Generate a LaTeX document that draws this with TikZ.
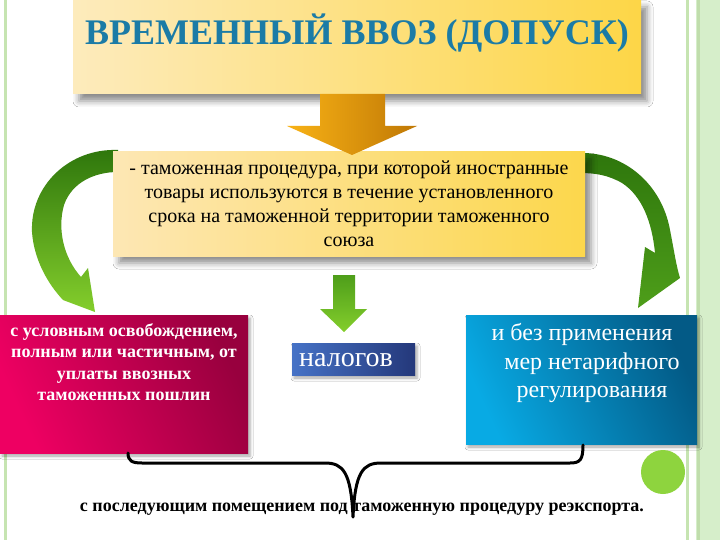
\documentclass[tikz,border=0pt]{standalone}
\usepackage{fontspec}
\setmainfont{Liberation Serif}
\usetikzlibrary{shadows.blur}
\definecolor{ttlL}{HTML}{FDEBBC}
\definecolor{ttlR}{HTML}{FDD647}
\definecolor{ttlC}{HTML}{1B7BA6}
\definecolor{midL}{HTML}{FDE7B4}
\definecolor{midR}{HTML}{FCD74C}
\definecolor{orL}{HTML}{F8B216}
\definecolor{orR}{HTML}{C07805}
\definecolor{grD}{HTML}{2E760C}
\definecolor{grL}{HTML}{84CE2C}
\definecolor{grM}{HTML}{4E9E1A}
\definecolor{pinkL}{HTML}{EE0062}
\definecolor{pinkR}{HTML}{98003E}
\definecolor{cyanL}{HTML}{08AAE4}
\definecolor{cyanR}{HTML}{035A86}
\definecolor{blueL}{HTML}{4672C6}
\definecolor{blueR}{HTML}{24387A}
\definecolor{dotG}{HTML}{8ED43E}
\definecolor{bordA}{HTML}{C6E4B1}
\definecolor{bordB}{HTML}{D6EECA}
\begin{document}
\begin{tikzpicture}[x=1pt,y=-1pt,
  softshadow/.style={blur shadow={shadow xshift=6pt, shadow yshift=-7pt, shadow blur radius=6pt, shadow opacity=45}},
  smallshadow/.style={blur shadow={shadow xshift=2pt, shadow yshift=-3pt, shadow blur radius=3pt, shadow opacity=35}},
  ttlbox/.style={rectangle, inner sep=0pt, left color=ttlL, right color=ttlR, softshadow},
  midbox/.style={rectangle, inner sep=0pt, left color=midL, right color=midR, softshadow},
  pinkbox/.style={rectangle, inner sep=0pt, shading=axis, top color=pinkR, bottom color=pinkL, shading angle=-65, smallshadow},
  cyanbox/.style={rectangle, inner sep=0pt, shading=axis, top color=cyanR, bottom color=cyanL, shading angle=-65, smallshadow},
  bluebox/.style={rectangle, inner sep=0pt, left color=blueL, right color=blueR, smallshadow},
  bracestyle/.style={line width=3pt, black, line cap=round, line join=round}
]
\useasboundingbox (0,0) rectangle (720,540);
\fill[white] (0,0) rectangle (720,540);
% page borders
\fill[bordA] (3.5,0) rectangle (7,540);
\fill[bordA] (686,0) rectangle (689,540);
\fill[bordB] (696,0) rectangle (720,540);
\fill[bordA!85!black!20!bordA] (697,0) rectangle (700,540);

% title
\node[ttlbox, minimum width=568pt, minimum height=94pt] (title) at (357,47) {};
\node[anchor=base, font=\bfseries\fontsize{36}{40}\selectfont, text=ttlC] (ttltext) at (357,45) {ВРЕМЕННЫЙ ВВОЗ (ДОПУСК)};

% curved green arrows (behind the middle box)
\shade[top color=grD, bottom color=grL]
  (118,150) .. controls (70,148) and (30,185) .. (32,232)
  .. controls (34,260) and (48,284) .. (63,300)
  -- (95,312) -- (88,268) -- (81,277)
  .. controls (64,258) and (57,230) .. (64,205)
  .. controls (72,182) and (95,172) .. (118,172) -- cycle;
\shade[top color=grD, bottom color=grM]
  (580,153) .. controls (625,152) and (662,185) .. (670,230)
  .. controls (674,250) and (676,265) .. (680,278)
  -- (638,308) -- (645,247) -- (655,253)
  .. controls (652,222) and (642,196) .. (622,183)
  .. controls (608,175) and (595,173) .. (580,173) -- cycle;

% middle box
\node[midbox, minimum width=472pt, minimum height=104pt, align=center,
      font=\fontsize{20}{24}\selectfont] (mid) at (349,204)
  {- таможенная процедура, при которой иностранные\\товары используются в течение установленного\\срока на таможенной территории таможенного\\союза};

% orange arrow
\shade[left color=orL, right color=orR]
  (320,94) -- (385,94) -- (385,126) -- (417,126) -- (352,155) -- (287,126) -- (320,126) -- cycle;

% small green arrow
\shade[top color=grM, bottom color=grL]
  (333,275) -- (355,275) -- (355,309) -- (367,309) -- (344,332) -- (320,309) -- (333,309) -- cycle;

% pink box
\node[pinkbox, minimum width=248pt, minimum height=138pt] (pink) at (124,384) {};
\node[align=center, text=white, font=\bfseries\fontsize{18}{21.5}\selectfont] (pinktext) at (124,362)
  {с условным освобождением,\\полным или частичным, от\\уплаты ввозных\\таможенных пошлин};

% blue box
\node[bluebox, minimum width=123pt, minimum height=32pt] (nal) at (353.5,359) {};
\node[anchor=base, text=white, font=\fontsize{28}{30}\selectfont] (naltext) at (346,366) {налогов};

% cyan box
\node[cyanbox, minimum width=231pt, minimum height=129pt] (cyan) at (581.5,379.5) {};
\node[align=center, text=white, font=\fontsize{24}{28.5}\selectfont] (cyantext) at (592,363)
  {и без применения\rule{20pt}{0pt}\\мер нетарифного\\регулирования};

% green dot
\node[circle, fill=dotG, minimum size=44pt, inner sep=0pt] (dot) at (663,472) {};

% brace
\coordinate (bl) at (128,453);
\coordinate (br) at (583,445);
\coordinate (btip) at (353,517);
\draw[bracestyle] (bl) .. controls (128,461) and (132,463) .. (142,463) -- (325,463)
  .. controls (343,463) and (351,472) .. (btip)
  .. controls (355,472) and (363,463) .. (381,463) -- (570,463)
  .. controls (580,463) and (583,460) .. (br);

% bottom text
\node[anchor=base, font=\bfseries\fontsize{18}{20}\selectfont] (bottom) at (362,511)
  {с последующим помещением под таможенную процедуру реэкспорта.};
\end{tikzpicture}
\end{document}
